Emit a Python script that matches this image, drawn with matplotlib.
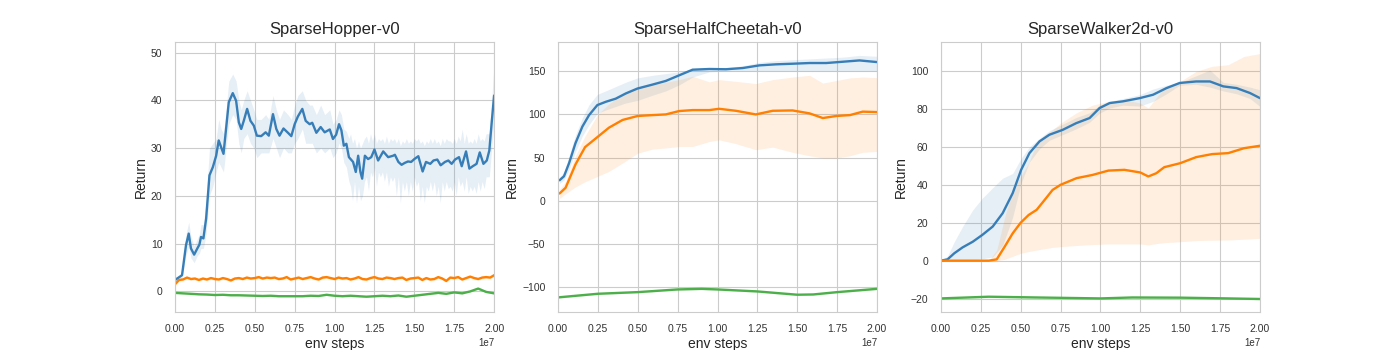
import numpy as np
import matplotlib
matplotlib.use("Agg")
import matplotlib.pyplot as plt
import seaborn as sns

# ---------------- data (x in units of 1e7 env steps) ----------------
BLUE, ORANGE, GREEN = "#377eb8", "#ff7f00", "#4daf4a"

# Hopper - blue mean
hop_b_x = [0.0, 0.027, 0.044, 0.069, 0.086, 0.1, 0.12, 0.14, 0.153, 0.163, 0.178, 0.195,
           0.216, 0.237, 0.258, 0.274, 0.289, 0.304, 0.32, 0.337, 0.362, 0.383, 0.4, 0.415,
           0.431, 0.452, 0.473, 0.494, 0.513, 0.54, 0.568, 0.588, 0.614, 0.635, 0.655, 0.68,
           0.708, 0.729, 0.75, 0.77, 0.798, 0.819, 0.844, 0.86, 0.886, 0.913, 0.938, 0.97,
           0.99, 1.01, 1.028, 1.043, 1.058, 1.074, 1.09, 1.116, 1.133, 1.148, 1.162, 1.173,
           1.19, 1.21, 1.23, 1.25, 1.273, 1.305, 1.336, 1.367, 1.378, 1.4, 1.42, 1.44, 1.46,
           1.48, 1.5, 1.525, 1.552, 1.573, 1.6, 1.62, 1.644, 1.665, 1.692, 1.713, 1.734,
           1.755, 1.78, 1.797, 1.824, 1.845, 1.866, 1.89, 1.91, 1.933, 1.954, 1.97, 1.985, 2.0]
hop_b_y = [2.4, 3.0, 3.4, 9.7, 12.1, 9.0, 7.7, 9.0, 9.8, 11.4, 11.1, 15.2,
           24.3, 26.0, 28.4, 31.6, 30.2, 28.8, 34.0, 39.6, 41.5, 39.9, 35.4, 34.0,
           35.7, 38.2, 35.7, 34.7, 32.6, 32.5, 33.3, 32.6, 37.1, 34.0, 32.6, 34.1,
           33.2, 32.5, 35.0, 36.6, 38.2, 35.7, 35.0, 35.3, 33.2, 34.4, 33.3, 33.9,
           31.9, 32.8, 35.0, 33.7, 30.5, 30.9, 28.1, 27.1, 25.0, 28.4, 25.0, 23.6,
           28.4, 27.7, 28.1, 29.7, 27.4, 29.3, 28.1, 28.4, 28.6, 27.1, 26.5, 26.9, 27.2,
           27.1, 27.7, 28.3, 25.1, 27.1, 26.7, 27.4, 27.6, 26.4, 27.1, 27.4, 26.7,
           27.6, 28.1, 26.2, 29.3, 25.7, 26.2, 26.7, 29.1, 26.7, 27.4, 29.5, 35.4, 41.0]

# Hopper - blue band (its own x grid, finer in the late noisy part)
hop_band_x_early = [0.0, 0.027, 0.044, 0.069, 0.086, 0.1, 0.12, 0.14, 0.153, 0.163, 0.178, 0.195,
                    0.216, 0.237, 0.258, 0.274, 0.289, 0.304, 0.32, 0.337, 0.362, 0.383, 0.4, 0.415,
                    0.431, 0.452, 0.473, 0.494, 0.513, 0.54, 0.568, 0.588, 0.614, 0.635, 0.655, 0.68,
                    0.708, 0.729, 0.75, 0.77, 0.798, 0.819, 0.844, 0.86, 0.886, 0.913, 0.938, 0.97,
                    0.99, 1.01, 1.028, 1.043, 1.058, 1.074, 1.09]
hop_band_lo_early = [2.0, 2.6, 2.8, 7.5, 9.5, 7.0, 6.0, 7.5, 8.0, 9.0, 9.0, 12.0,
                     20.0, 22.0, 25.0, 27.0, 26.0, 25.0, 30.0, 35.0, 37.0, 36.0, 31.0, 29.0,
                     32.0, 33.0, 31.0, 30.0, 28.0, 29.0, 29.0, 29.0, 32.0, 30.0, 28.0, 30.0,
                     29.0, 29.0, 31.0, 32.0, 34.0, 31.0, 31.0, 31.0, 29.0, 30.0, 29.0, 30.0,
                     28.0, 29.0, 31.0, 30.0, 27.0, 26.0, 23.0]
hop_band_hi_early = [2.8, 3.4, 4.0, 12.0, 14.5, 11.5, 9.5, 11.0, 12.0, 14.0, 14.0, 19.0,
                     30.0, 31.0, 32.0, 36.0, 34.0, 33.0, 38.0, 44.0, 45.5, 44.0, 40.0, 38.0,
                     40.0, 42.0, 40.0, 38.0, 36.0, 36.0, 37.0, 36.0, 41.0, 38.0, 36.0, 38.0,
                     37.0, 36.0, 39.0, 41.0, 42.0, 40.0, 39.0, 39.0, 37.0, 39.0, 37.0, 38.0,
                     35.0, 36.0, 38.0, 37.0, 34.0, 33.5, 32.0]
hop_band_x_late = [round(1.1 + 0.0125 * i, 4) for i in range(69)] + [1.97, 1.985, 2.0]
hop_band_lo_late = [22, 19, 23, 18.5, 22, 19, 20, 23, 24, 21,
                    25, 24, 26, 22, 25, 24, 25, 23, 25, 22,
                    24, 23, 24, 20, 24, 18.5, 23, 21, 23, 20,
                    23, 21, 24, 22, 23, 19, 22, 18.5, 22, 21,
                    23, 21, 23, 20, 22, 18.5, 23, 21, 23, 21.5,
                    22, 21, 23, 20, 24, 22, 23, 21, 24, 20.5,
                    22, 21, 22, 20.5, 23, 21, 23, 21.5, 24,
                    24, 30, 36]
hop_band_hi_late = [33, 31, 32, 30, 31.5, 30, 31, 32, 32.5, 31,
                    33, 31.5, 33, 31, 32, 31.5, 32, 31, 32.5, 31,
                    32, 31.5, 32, 31, 32, 30.5, 31.5, 31, 32, 31,
                    31.5, 31, 32, 31.5, 32, 31, 31.5, 30.5, 31.5, 31,
                    32, 31, 32, 31, 31.5, 30.5, 32, 31, 32, 31.5,
                    31.5, 31, 32, 31, 32.5, 31.5, 34, 31, 33, 31,
                    31.5, 31, 32, 31, 33, 31.5, 32, 31.5, 33,
                    33, 40, 48]

# Hopper - orange (every 0.025)
hop_o_x = [i * 0.025 for i in range(81)]
hop_o_y = [1.5, 2.4, 2.5, 2.9, 2.6, 2.7, 2.4, 2.7, 2.5, 2.8, 2.6, 2.5, 2.8, 2.6, 2.3, 2.7,
           2.8, 2.6, 2.9, 2.7, 2.8, 3.0, 2.7, 2.9, 2.8, 2.9, 2.6, 2.7, 3.0, 2.5, 2.7, 2.9,
           2.6, 2.8, 3.0, 2.7, 2.5, 2.9, 3.0, 2.8, 2.6, 2.9, 2.7, 2.8, 2.5, 2.7, 3.0, 2.6,
           2.5, 2.8, 3.0, 2.7, 2.6, 2.9, 2.8, 2.6, 2.8, 2.9, 2.4, 2.7, 2.8, 2.9, 2.4, 2.8,
           2.5, 2.6, 3.0, 2.7, 2.2, 2.9, 2.8, 3.0, 2.5, 2.8, 3.1, 2.8, 2.6, 2.9, 3.0, 2.9, 3.4]
hop_o_sd = 0.3

# Hopper - green (every 0.05)
hop_g_x = [i * 0.05 for i in range(41)]
hop_g_y = [-0.3, -0.4, -0.5, -0.6, -0.65, -0.75, -0.7, -0.8, -0.8, -0.85, -0.9, -0.95,
           -0.9, -1.0, -1.0, -1.0, -1.0, -0.9, -0.95, -0.7, -0.9, -1.0, -0.9, -1.0, -1.1,
           -1.0, -0.9, -1.0, -0.85, -1.1, -0.9, -0.7, -0.5, -0.3, -0.5, -0.2, -0.4, 0.0,
           0.6, -0.1, -0.4]
hop_g_sd = 0.15

# HalfCheetah
hc_b_x = [0.01, 0.038, 0.07, 0.11, 0.153, 0.195, 0.247, 0.3, 0.362, 0.425, 0.498, 0.593,
          0.676, 0.76, 0.844, 0.949, 1.053, 1.158, 1.263, 1.368, 1.472, 1.577, 1.682,
          1.786, 1.89, 2.0]
hc_b_y = [23.7, 28.3, 43.6, 66.6, 85.7, 99.0, 110.6, 114.4, 118.0, 124.0, 129.7, 134.3,
          138.5, 145.0, 151.5, 152.3, 152.0, 153.4, 156.5, 157.7, 158.4, 159.2, 159.2,
          160.7, 162.2, 160.3]
hc_b_lo = [20.0, 24.0, 36.0, 57.0, 75.0, 88.0, 101.0, 105.0, 109.0, 113.0, 116.0, 122.0,
           127.0, 134.0, 143.0, 149.0, 150.0, 150.0, 150.0, 150.0, 150.0, 150.0, 150.0,
           150.0, 150.0, 150.0]
hc_b_hi = [27.0, 33.0, 52.0, 76.0, 96.0, 111.0, 123.0, 127.0, 132.0, 137.0, 142.0, 145.0,
           147.0, 149.0, 152.0, 154.0, 154.0, 156.0, 160.0, 162.0, 163.0, 164.0, 165.0,
           166.0, 168.0, 167.0]

hc_o_x = [0.01, 0.048, 0.11, 0.17, 0.25, 0.32, 0.405, 0.5, 0.593, 0.676, 0.76, 0.844,
          0.949, 1.01, 1.115, 1.24, 1.346, 1.47, 1.577, 1.66, 1.745, 1.83, 1.91, 2.0]
hc_o_y = [8.4, 15.0, 42.0, 62.0, 74.0, 84.5, 93.4, 98.0, 99.0, 99.8, 103.7, 104.8,
          104.8, 106.3, 104.0, 99.8, 104.0, 104.4, 101.0, 95.6, 98.0, 99.0, 103.0, 102.5]
hc_o_lo = [2.7, 8.0, 16.0, 22.0, 28.3, 34.0, 43.6, 55.0, 59.7, 61.0, 62.7, 62.7,
           68.5, 70.4, 66.0, 59.0, 62.0, 56.0, 52.0, 49.4, 49.4, 52.0, 56.0, 57.0]
hc_o_hi = [13.0, 22.0, 52.0, 75.0, 100.0, 112.0, 124.0, 131.6, 134.0, 137.0, 140.0, 144.0,
           137.4, 140.0, 138.0, 135.5, 140.0, 143.0, 145.0, 136.0, 139.0, 142.0, 143.0, 142.3]

hc_g_x = [0.0, 0.25, 0.5, 0.75, 0.9, 1.0, 1.25, 1.5, 1.6, 1.75, 2.0]
hc_g_y = [-111.7, -107.5, -105.6, -102.5, -101.8, -102.5, -104.8, -108.6, -108.3, -105.6, -101.8]
hc_g_sd = 1.0

# Walker2d
wk_b_x = [0.0, 0.042, 0.084, 0.136, 0.2, 0.26, 0.325, 0.387, 0.45, 0.503, 0.555, 0.618,
          0.68, 0.764, 0.848, 0.932, 0.995, 1.058, 1.14, 1.246, 1.33, 1.414, 1.497, 1.6,
          1.686, 1.77, 1.853, 1.937, 2.0]
wk_b_y = [0.0, 0.7, 3.9, 7.0, 10.0, 13.6, 18.0, 25.0, 35.6, 47.9, 56.7, 62.9,
          66.4, 69.0, 72.5, 75.2, 80.5, 83.1, 84.0, 85.7, 87.5, 91.0, 93.7, 94.5,
          94.5, 91.9, 91.0, 88.4, 85.7]
wk_b_lo = [0.0, 0.0, 0.0, 0.2, 0.4, 1.0, 2.0, 8.0, 23.0, 41.0, 52.0, 59.0,
           63.5, 66.5, 69.5, 73.0, 77.8, 80.5, 82.0, 81.5, 84.0, 88.0, 92.5, 93.0,
           91.5, 89.5, 88.0, 85.5, 81.3]
wk_b_hi = [0.0, 2.5, 10.0, 18.0, 26.8, 33.0, 38.5, 43.5, 46.0, 54.0, 60.0, 64.5,
           68.5, 72.0, 75.5, 78.0, 82.0, 84.0, 85.5, 87.5, 90.5, 92.5, 94.0, 97.5,
           100.5, 94.0, 93.0, 91.5, 90.1]

wk_o_x = [0.0, 0.1, 0.2, 0.3, 0.35, 0.4, 0.45, 0.5, 0.55, 0.6, 0.65, 0.7, 0.75, 0.85,
          0.95, 1.05, 1.15, 1.25, 1.3, 1.35, 1.4, 1.5, 1.6, 1.7, 1.8, 1.9, 2.0]
wk_o_y = [0.0, 0.0, 0.0, 0.0, 0.7, 7.4, 14.4, 20.0, 24.1, 26.8, 32.0, 37.3, 40.0, 43.5,
          45.2, 47.5, 47.9, 46.5, 44.4, 46.1, 49.3, 51.4, 54.6, 56.2, 56.7, 59.3, 60.6]
wk_o_lo = [0.0, 0.0, 0.0, 0.0, 0.0, 0.7, 2.3, 3.9, 4.8, 5.6, 6.3, 7.0, 7.4, 8.0,
           8.5, 8.8, 8.8, 8.8, 8.3, 9.0, 9.5, 10.0, 10.6, 10.8, 10.9, 11.3, 11.8]
wk_o_hi = [0.0, 0.0, 0.0, 0.0, 5.6, 23.0, 37.3, 44.4, 51.4, 62.0, 66.0, 69.0, 72.5, 78.0,
           82.0, 84.0, 84.9, 83.1, 80.5, 86.0, 91.0, 94.5, 99.8, 102.5, 103.3, 107.7, 109.2]

wk_g_x = [0.0, 0.3, 0.6, 1.0, 1.2, 1.5, 1.8, 2.0]
wk_g_y = [-19.9, -19.0, -19.4, -19.9, -19.4, -19.5, -19.9, -20.2]
wk_g_sd = 0.5

titles = ["SparseHopper-v0", "SparseHalfCheetah-v0", "SparseWalker2d-v0"]
ylims = [(-4.2, 52.2), (-128, 183.5), (-26.8, 115.3)]
yticks = [[0, 10, 20, 30, 40, 50], [-100, -50, 0, 50, 100, 150], [-20, 0, 20, 40, 60, 80, 100]]
xticks = [0.0, 0.25, 0.5, 0.75, 1.0, 1.25, 1.5, 1.75, 2.0]

# ---------------- plotting ----------------
sns.set_theme(style="whitegrid")
plt.rcParams["font.family"] = ["Arial", "Liberation Sans", "DejaVu Sans"]

fig, axes = plt.subplots(1, 3, figsize=(14, 3.5), dpi=100)

S = 1e7

def fill(ax, x, lo, hi, c):
    ax.fill_between(np.asarray(x) * S, lo, hi, color=c, alpha=0.12, linewidth=0)

def line(ax, x, y, c):
    ax.plot(np.asarray(x) * S, y, color=c, lw=1.7)

def sdband(ax, x, y, sd, c):
    y = np.asarray(y)
    fill(ax, x, y - sd, y + sd, c)
    line(ax, x, y, c)

# Hopper
ax = axes[0]
fill(ax, hop_band_x_early + hop_band_x_late,
     hop_band_lo_early + hop_band_lo_late,
     hop_band_hi_early + hop_band_hi_late, BLUE)
line(ax, hop_b_x, hop_b_y, BLUE)
sdband(ax, hop_o_x, hop_o_y, hop_o_sd, ORANGE)
sdband(ax, hop_g_x, hop_g_y, hop_g_sd, GREEN)

# HalfCheetah
ax = axes[1]
fill(ax, hc_b_x, hc_b_lo, hc_b_hi, BLUE)
line(ax, hc_b_x, hc_b_y, BLUE)
fill(ax, hc_o_x, hc_o_lo, hc_o_hi, ORANGE)
line(ax, hc_o_x, hc_o_y, ORANGE)
sdband(ax, hc_g_x, hc_g_y, hc_g_sd, GREEN)

# Walker
ax = axes[2]
fill(ax, wk_b_x, wk_b_lo, wk_b_hi, BLUE)
line(ax, wk_b_x, wk_b_y, BLUE)
fill(ax, wk_o_x, wk_o_lo, wk_o_hi, ORANGE)
line(ax, wk_o_x, wk_o_y, ORANGE)
sdband(ax, wk_g_x, wk_g_y, wk_g_sd, GREEN)

for ax, t, yl, yt in zip(axes, titles, ylims, yticks):
    ax.set_title(t, fontsize=12)
    ax.set_xlim(0, 2e7)
    ax.set_ylim(*yl)
    ax.set_yticks(yt)
    ax.set_xticks([v * S for v in xticks])
    ax.tick_params(labelsize=7.5, pad=3, colors="#333333")
    ax.set_xlabel("env steps", fontsize=10, labelpad=2)
    ax.set_ylabel("Return", fontsize=10, labelpad=2)
    ax.xaxis.get_offset_text().set_fontsize(7)
    for s in ax.spines.values():
        s.set_color("#cccccc")
        s.set_linewidth(0.8)
    ax.grid(color="#cccccc", linewidth=0.8)

fig.savefig("out.png", dpi=100)
